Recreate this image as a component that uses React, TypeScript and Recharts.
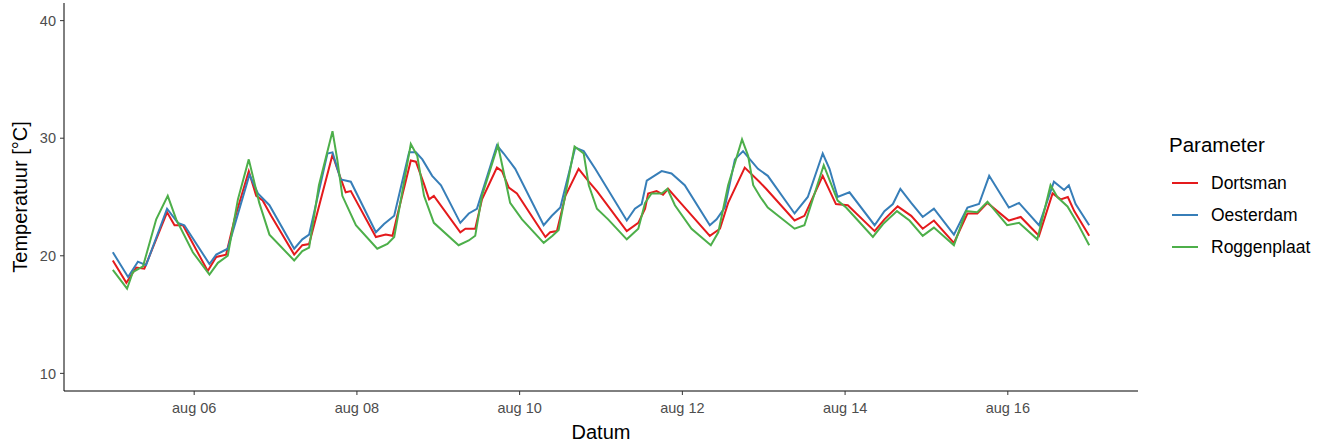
import { LineChart, Line, XAxis, YAxis } from 'recharts';

// hours since aug 05 00:00, temperature in °C
const dortsman: [number, number][] = [
  [0, 19.6], [4, 17.7], [6.9, 19.0], [9.3, 18.9], [16, 23.7], [18.2, 22.6], [20.7, 22.6], [28, 18.7],
  [30.5, 19.9], [33.4, 20.1], [35.9, 23.1], [40.1, 27.2], [42.3, 25.1], [44.2, 24.7], [46.7, 23.4],
  [53.5, 20.1], [55.9, 20.9], [57.9, 21.0], [64.8, 28.6], [66.2, 27.4], [68.7, 25.4], [70.2, 25.5],
  [77.6, 21.6], [80.5, 21.8], [82.5, 21.7], [83.9, 23.4], [87.9, 28.1], [89.4, 28.0], [91.8, 26.1],
  [93.3, 24.8], [94.7, 25.1], [102.5, 22.0], [104, 22.3], [106.9, 22.3], [108.9, 24.8], [113.3, 27.5],
  [114.8, 27.2], [116.8, 25.8], [119.2, 25.3], [127.6, 21.6], [129, 22.0], [131, 22.1], [133.5, 25.1],
  [137.4, 27.4], [140.4, 26.3], [142.8, 25.5], [151.6, 22.1], [155, 22.8], [157, 24.0], [157.9, 25.3],
  [160.4, 25.5], [162.3, 25.2], [163.8, 25.7], [167.8, 24.4], [176.1, 21.7], [179.1, 22.3], [181.5, 24.5],
  [186.4, 27.5], [190.7, 26.3], [192.7, 25.7], [201.1, 23.0], [204, 23.4], [209.4, 26.8], [213.3, 24.4],
  [216.8, 24.3], [224.7, 22.1], [227.6, 23.1], [231.5, 24.2], [235.5, 23.4], [238.9, 22.3], [242.2, 23.0],
  [248.1, 21.1], [252.1, 23.6], [255, 23.6], [258, 24.5], [264.3, 23.0], [267.8, 23.3], [273.2, 21.7],
  [277.2, 25.3], [279.6, 24.8], [281.7, 25.0], [283.6, 23.8], [288, 21.7],
];

const oesterdam: [number, number][] = [
  [0, 20.3], [4.5, 18.2], [7.4, 19.5], [9.8, 19.2], [16, 24.0], [19.2, 22.8], [21.1, 22.6], [28.5, 19.3],
  [30.5, 20.1], [33.9, 20.6], [40.3, 26.9], [42.8, 25.3], [46.2, 24.3], [53.5, 20.6], [55.9, 21.4],
  [57.9, 21.8], [63.3, 28.7], [64.8, 28.8], [67.2, 26.5], [70.2, 26.3], [77.6, 22.0], [80, 22.7],
  [83, 23.4], [87.4, 28.8], [89.4, 28.8], [91.3, 28.2], [94.2, 26.8], [96.8, 26.0], [102.5, 22.8], [105, 23.6],
  [107.4, 24.0], [113.3, 29.4], [115.3, 28.7], [118.7, 27.4], [127.1, 22.6], [129.5, 23.4], [132, 24.1],
  [136.4, 29.2], [138.9, 28.9], [142.3, 27.4], [151.6, 23.0], [154, 24.0], [156, 24.4], [157.5, 26.4],
  [161.9, 27.2], [164.8, 27.0], [168.7, 26.0], [176.1, 22.6], [178.1, 23.1], [180.5, 24.1], [183.5, 28.2],
  [185.9, 28.9], [190.3, 27.4], [193.2, 26.8], [201.1, 23.6], [205, 25.0], [209.4, 28.7], [211.4, 27.4],
  [213.8, 25.0], [217.3, 25.4], [224.7, 22.6], [227.6, 23.8], [230.1, 24.4], [232.3, 25.7], [235.5, 24.5],
  [238.9, 23.3], [242.2, 24.0], [248.1, 21.8], [252.1, 24.1], [255.5, 24.4], [258.5, 26.8], [264.3, 24.1],
  [267.3, 24.5], [273.2, 22.6], [277.6, 26.3], [280.6, 25.6], [282, 26.0], [284, 24.4], [288, 22.6],
];

const roggenplaat: [number, number][] = [
  [0, 18.8], [4.2, 17.2], [5.9, 18.6], [8.9, 19.1], [12.8, 23.1], [16.2, 25.1], [18.7, 23.1], [23.6, 20.3],
  [28.5, 18.4], [31, 19.4], [33.9, 20.0], [36.9, 24.8], [40.1, 28.2], [43.2, 24.5], [46.2, 21.8],
  [53.5, 19.6], [55.9, 20.4], [57.9, 20.7], [60.8, 26.0], [64.8, 30.6], [66.2, 28.2], [67.7, 25.1],
  [71.7, 22.6], [78, 20.6], [81, 21.0], [83, 21.6], [87.9, 29.5], [89.8, 28.5], [91.8, 25.1], [94.7, 22.8],
  [102, 20.9], [105, 21.3], [106.9, 21.7], [108.9, 25.1], [113.6, 29.4], [115.3, 27.1], [117.2, 24.5],
  [120.7, 23.1], [127.1, 21.1], [129.7, 21.7], [131.5, 22.2], [136.2, 29.3], [138.9, 28.7], [140.4, 26.0],
  [142.8, 24.0], [146.1, 23.1], [151.6, 21.4], [155, 22.3], [157, 24.5], [158.9, 25.3], [161.9, 25.3],
  [163.6, 25.7], [165.8, 24.3], [170.7, 22.3], [176.4, 20.9], [178.6, 22.0], [181.5, 26.0], [185.6, 29.9],
  [187.4, 28.5], [188.9, 26.0], [191, 25.0], [193.2, 24.1], [201.1, 22.3], [204, 22.6], [209.7, 27.7],
  [213.8, 24.7], [216.3, 24.1], [219.8, 23.0], [224.2, 21.6], [227.2, 22.7], [231.3, 23.8], [235, 23.0],
  [238.9, 21.7], [242.2, 22.4], [248.1, 20.9], [251.7, 23.8], [255, 23.7], [258, 24.6], [263.8, 22.6],
  [267.3, 22.8], [272.7, 21.4], [276.6, 26.0], [278.6, 25.0], [281.6, 24.2], [284.5, 22.8], [288, 20.9],
];

const xTicks = [24, 72, 120, 168, 216, 264];
const xTickLabels = ['aug 06', 'aug 08', 'aug 10', 'aug 12', 'aug 14', 'aug 16'];
const yTicks = [10, 20, 30, 40];

const series = [
  { name: 'Dortsman', color: '#E41A1C', points: dortsman },
  { name: 'Oesterdam', color: '#377EB8', points: oesterdam },
  { name: 'Roggenplaat', color: '#4DAF4A', points: roggenplaat },
];

const FONT = 'Arial, "Liberation Sans", sans-serif';

function LegendBox() {
  return (
    <div style={{ fontFamily: FONT, position: 'absolute', left: 1169, top: 133 }}>
      <div style={{ fontSize: 20.5, lineHeight: '24px', color: '#000', marginBottom: 10 }}>Parameter</div>
      {series.map((s) => (
        <div key={s.name} style={{ display: 'flex', alignItems: 'center', height: 32 }}>
          <div style={{ width: 26, height: 2, background: s.color, marginLeft: 3, marginRight: 13 }} />
          <span style={{ fontSize: 17.5, color: '#000' }}>{s.name}</span>
        </div>
      ))}
    </div>
  );
}

export default function App() {
  return (
    <div style={{ position: 'absolute', left: 0, top: 0, width: 1325, height: 443, background: '#fff' }}>
      <LineChart width={1325} height={443} margin={{ top: 3, right: 187, bottom: 0, left: 0 }}>
        <XAxis
          dataKey="t"
          type="number"
          domain={[-14.4, 302.4]}
          ticks={xTicks}
          tickFormatter={(v) => xTickLabels[xTicks.indexOf(v)] ?? ''}
          allowDataOverflow
          height={52}
          stroke="#000"
          tickSize={4}
          tickMargin={8}
          tick={{ fill: '#4D4D4D', fontSize: 14.5, fontFamily: FONT }}
          tickLine={{ stroke: '#333' }}
          label={{ value: 'Datum', position: 'insideBottom', offset: 4, fill: '#000', fontSize: 20, fontFamily: FONT }}
        />
        <YAxis
          type="number"
          domain={[8.5, 41.5]}
          ticks={yTicks}
          allowDataOverflow
          width={64}
          stroke="#000"
          tickSize={4}
          tickMargin={4}
          tick={{ fill: '#4D4D4D', fontSize: 14.5, fontFamily: FONT }}
          tickLine={{ stroke: '#333' }}
          label={{
            value: 'Temperatuur [°C]',
            angle: -90,
            position: 'insideLeft',
            offset: 20,
            fill: '#000',
            fontSize: 20,
            fontFamily: FONT,
            style: { textAnchor: 'middle' },
          }}
        />
        {series.map((s) => (
          <Line
            key={s.name}
            name={s.name}
            data={s.points.map(([t, v]) => ({ t, v }))}
            dataKey="v"
            type="linear"
            stroke={s.color}
            strokeWidth={2}
            dot={false}
            activeDot={false}
            isAnimationActive={false}
          />
        ))}
      </LineChart>
      <LegendBox />
    </div>
  );
}
